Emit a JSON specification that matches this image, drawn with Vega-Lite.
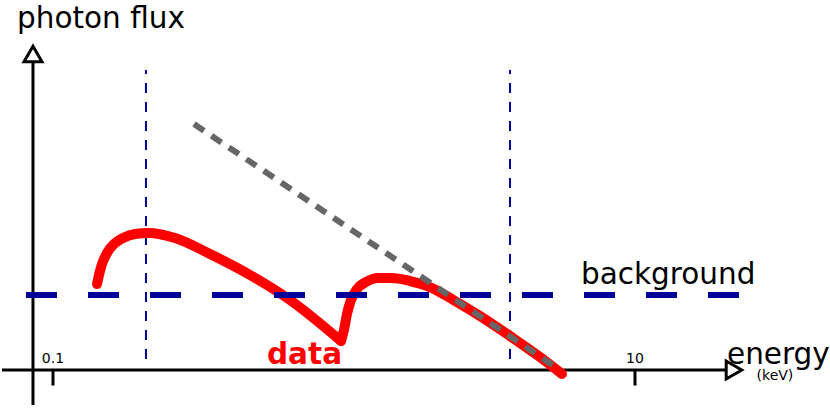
{
  "$schema": "https://vega.github.io/schema/vega-lite/v6.json",
  "width": 830,
  "height": 408,
  "padding": 0,
  "autosize": {"type": "fit", "contains": "padding"},
  "config": {"view": {"stroke": null}, "font": "DejaVu Sans"},
  "datasets": {
    "data_curve": [
      {"part": "soft", "energy": 0.1417, "flux": 2.324},
      {"part": "soft", "energy": 0.1439, "flux": 2.568},
      {"part": "soft", "energy": 0.1474, "flux": 2.865},
      {"part": "soft", "energy": 0.1533, "flux": 3.162},
      {"part": "soft", "energy": 0.1620, "flux": 3.405},
      {"part": "soft", "energy": 0.1740, "flux": 3.568},
      {"part": "soft", "energy": 0.1913, "flux": 3.676},
      {"part": "soft", "energy": 0.2121, "flux": 3.703},
      {"part": "soft", "energy": 0.2626, "flux": 3.568},
      {"part": "soft", "energy": 0.3464, "flux": 3.135},
      {"part": "soft", "energy": 0.4753, "flux": 2.568},
      {"part": "soft", "energy": 0.6523, "flux": 1.892},
      {"part": "soft", "energy": 0.9765, "flux": 0.784},
      {"part": "hard", "energy": 0.9765, "flux": 0.784},
      {"part": "hard", "energy": 1.000, "flux": 1.081},
      {"part": "hard", "energy": 1.024, "flux": 1.514},
      {"part": "hard", "energy": 1.057, "flux": 1.892},
      {"part": "hard", "energy": 1.108, "flux": 2.189},
      {"part": "hard", "energy": 1.190, "flux": 2.378},
      {"part": "hard", "energy": 1.309, "flux": 2.486},
      {"part": "hard", "energy": 1.462, "flux": 2.486},
      {"part": "hard", "energy": 1.686, "flux": 2.405},
      {"part": "hard", "energy": 1.975, "flux": 2.243},
      {"part": "hard", "energy": 2.407, "flux": 1.865},
      {"part": "hard", "energy": 2.933, "flux": 1.459},
      {"part": "hard", "energy": 3.719, "flux": 0.919},
      {"part": "hard", "energy": 4.716, "flux": 0.351},
      {"part": "hard", "energy": 5.613, "flux": -0.108}
    ],
    "powerlaw": [
      {"energy": 0.3052, "flux": 6.649},
      {"energy": 5.524, "flux": 0.0}
    ],
    "background": [
      {"energy": 0.08076, "flux": 2.027},
      {"energy": 23.14, "flux": 2.027}
    ],
    "band_edges": [
      {"energy": 0.2087, "top": 8.108, "bottom": 0.135},
      {"energy": 3.719, "top": 8.108, "bottom": 0.135}
    ],
    "x_axis": [
      {"start": 0.0668, "end": 20.55, "flux": 0}
    ],
    "y_axis": [
      {"energy": 0.08536, "low": -0.946, "high": 8.324}
    ],
    "x_arrow": [{"energy": 21.89, "flux": 0}],
    "y_arrow": [{"energy": 0.08536, "flux": 8.541}],
    "ticks": [
      {"energy": 0.1, "low": -0.42, "high": 0},
      {"energy": 10, "low": -0.42, "high": 0}
    ],
    "big_labels": [
      {"label": "photon flux", "energy": 0.07521, "flux": 9.243},
      {"label": "energy", "energy": 20.71, "flux": 0.162},
      {"label": "background", "energy": 6.523, "flux": 2.324}
    ],
    "small_labels": [
      {"label": "0.1", "energy": 0.1, "flux": 0.189},
      {"label": "10", "energy": 10, "flux": 0.189},
      {"label": "(keV)", "energy": 30.27, "flux": -0.27}
    ],
    "data_label": [
      {"label": "data", "energy": 0.5438, "flux": 0.162}
    ]
  },
  "layer": [
    {
      "data": {"name": "band_edges"},
      "mark": {"type": "rule", "color": "#000099", "strokeWidth": 2, "strokeDash": [10, 9], "strokeDashOffset": 6},
      "encoding": {
        "x": {"field": "energy", "type": "quantitative", "axis": null, "scale": {"type": "log", "domain": [0.06575, 46.79], "nice": false}},
        "y": {"field": "top", "type": "quantitative", "axis": null, "scale": {"type": "linear", "domain": [-1.027, 10], "nice": false, "zero": false}},
        "y2": {"field": "bottom"}
      }
    },
    {
      "data": {"name": "x_axis"},
      "mark": {"type": "rule", "color": "black", "strokeWidth": 3},
      "encoding": {
        "x": {"field": "start", "type": "quantitative", "axis": null, "scale": {"type": "log", "domain": [0.06575, 46.79], "nice": false}},
        "x2": {"field": "end"},
        "y": {"field": "flux", "type": "quantitative", "axis": null, "scale": {"type": "linear", "domain": [-1.027, 10], "nice": false, "zero": false}}
      }
    },
    {
      "data": {"name": "y_axis"},
      "mark": {"type": "rule", "color": "black", "strokeWidth": 3},
      "encoding": {
        "x": {"field": "energy", "type": "quantitative", "axis": null, "scale": {"type": "log", "domain": [0.06575, 46.79], "nice": false}},
        "y": {"field": "low", "type": "quantitative", "axis": null, "scale": {"type": "linear", "domain": [-1.027, 10], "nice": false, "zero": false}},
        "y2": {"field": "high"}
      }
    },
    {
      "data": {"name": "ticks"},
      "mark": {"type": "rule", "color": "black", "strokeWidth": 3},
      "encoding": {
        "x": {"field": "energy", "type": "quantitative", "axis": null, "scale": {"type": "log", "domain": [0.06575, 46.79], "nice": false}},
        "y": {"field": "low", "type": "quantitative", "axis": null, "scale": {"type": "linear", "domain": [-1.027, 10], "nice": false, "zero": false}},
        "y2": {"field": "high"}
      }
    },
    {
      "data": {"name": "x_arrow"},
      "mark": {"type": "point", "shape": "triangle-right", "size": 324, "filled": true, "fill": "white", "stroke": "black", "strokeWidth": 3, "opacity": 1},
      "encoding": {
        "x": {"field": "energy", "type": "quantitative", "axis": null, "scale": {"type": "log", "domain": [0.06575, 46.79], "nice": false}},
        "y": {"field": "flux", "type": "quantitative", "axis": null, "scale": {"type": "linear", "domain": [-1.027, 10], "nice": false, "zero": false}}
      }
    },
    {
      "data": {"name": "y_arrow"},
      "mark": {"type": "point", "shape": "triangle-up", "size": 324, "filled": true, "fill": "white", "stroke": "black", "strokeWidth": 3, "opacity": 1},
      "encoding": {
        "x": {"field": "energy", "type": "quantitative", "axis": null, "scale": {"type": "log", "domain": [0.06575, 46.79], "nice": false}},
        "y": {"field": "flux", "type": "quantitative", "axis": null, "scale": {"type": "linear", "domain": [-1.027, 10], "nice": false, "zero": false}}
      }
    },
    {
      "data": {"name": "data_curve"},
      "mark": {"type": "line", "color": "#ff0000", "strokeWidth": 10, "interpolate": "monotone", "strokeJoin": "round", "strokeCap": "round"},
      "encoding": {
        "x": {"field": "energy", "type": "quantitative", "axis": null, "scale": {"type": "log", "domain": [0.06575, 46.79], "nice": false}},
        "y": {"field": "flux", "type": "quantitative", "axis": null, "scale": {"type": "linear", "domain": [-1.027, 10], "nice": false, "zero": false}},
        "detail": {"field": "part", "type": "nominal"}
      }
    },
    {
      "data": {"name": "powerlaw"},
      "mark": {"type": "line", "color": "#666666", "strokeWidth": 6, "strokeDash": [12, 9]},
      "encoding": {
        "x": {"field": "energy", "type": "quantitative", "axis": null, "scale": {"type": "log", "domain": [0.06575, 46.79], "nice": false}},
        "y": {"field": "flux", "type": "quantitative", "axis": null, "scale": {"type": "linear", "domain": [-1.027, 10], "nice": false, "zero": false}}
      }
    },
    {
      "data": {"name": "background"},
      "mark": {"type": "line", "color": "#000099", "strokeWidth": 6, "strokeDash": [31, 31]},
      "encoding": {
        "x": {"field": "energy", "type": "quantitative", "axis": null, "scale": {"type": "log", "domain": [0.06575, 46.79], "nice": false}},
        "y": {"field": "flux", "type": "quantitative", "axis": null, "scale": {"type": "linear", "domain": [-1.027, 10], "nice": false, "zero": false}}
      }
    },
    {
      "data": {"name": "big_labels"},
      "mark": {"type": "text", "align": "left", "baseline": "alphabetic", "fontSize": 29.5, "color": "black", "font": "DejaVu Sans"},
      "encoding": {
        "x": {"field": "energy", "type": "quantitative", "axis": null, "scale": {"type": "log", "domain": [0.06575, 46.79], "nice": false}},
        "y": {"field": "flux", "type": "quantitative", "axis": null, "scale": {"type": "linear", "domain": [-1.027, 10], "nice": false, "zero": false}},
        "text": {"field": "label"}
      }
    },
    {
      "data": {"name": "small_labels"},
      "mark": {"type": "text", "align": "center", "baseline": "alphabetic", "fontSize": 14, "color": "black", "font": "DejaVu Sans"},
      "encoding": {
        "x": {"field": "energy", "type": "quantitative", "axis": null, "scale": {"type": "log", "domain": [0.06575, 46.79], "nice": false}},
        "y": {"field": "flux", "type": "quantitative", "axis": null, "scale": {"type": "linear", "domain": [-1.027, 10], "nice": false, "zero": false}},
        "text": {"field": "label"}
      }
    },
    {
      "data": {"name": "data_label"},
      "mark": {"type": "text", "align": "left", "baseline": "alphabetic", "fontSize": 29.5, "fontWeight": "bold", "color": "#ff0000", "font": "DejaVu Sans"},
      "encoding": {
        "x": {"field": "energy", "type": "quantitative", "axis": null, "scale": {"type": "log", "domain": [0.06575, 46.79], "nice": false}},
        "y": {"field": "flux", "type": "quantitative", "axis": null, "scale": {"type": "linear", "domain": [-1.027, 10], "nice": false, "zero": false}},
        "text": {"field": "label"}
      }
    }
  ]
}
